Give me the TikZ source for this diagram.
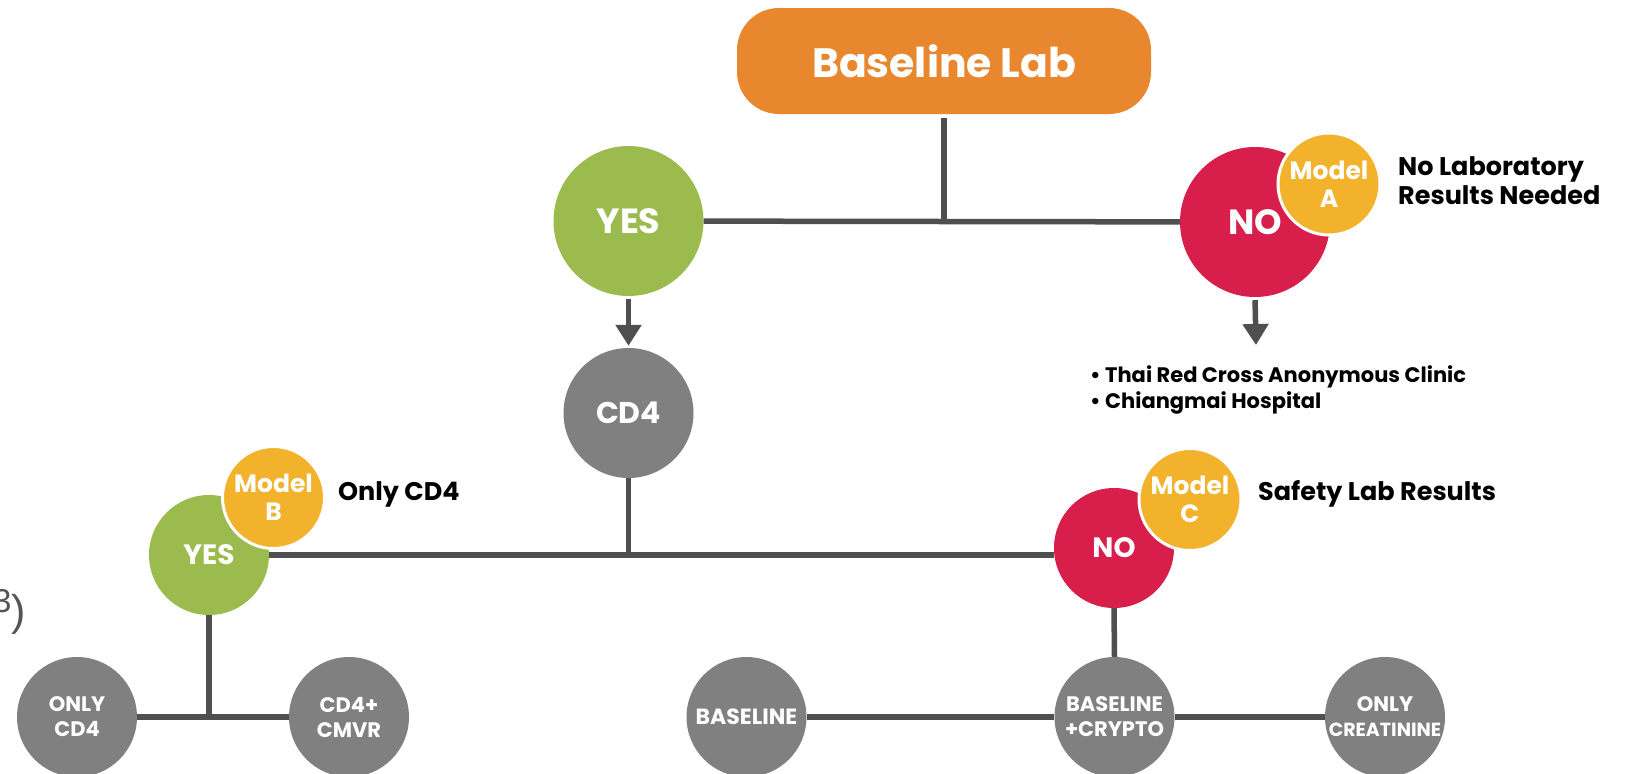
\documentclass[tikz,border=0pt]{standalone}
\usepackage{fontspec}
\setmainfont{Poppins}
\newfontfamily\arialfont{Liberation Sans}
\usetikzlibrary{arrows.meta}
\definecolor{cOrange}{HTML}{E8872E}
\definecolor{cGreen}{HTML}{9BBB4E}
\definecolor{cRed}{HTML}{D81E4B}
\definecolor{cGold}{HTML}{F2B22C}
\definecolor{cGrey}{HTML}{808080}
\definecolor{cLine}{HTML}{4F4F4F}
\definecolor{cNote}{HTML}{555555}
\tikzset{
  conn/.style={draw=cLine, line width=5.5pt},
  arr/.style={conn, -{Triangle[width=25pt,length=21pt]}},
  startbox/.style={rectangle, rounded corners=42pt, fill=cOrange, text=white,
    minimum width=414pt, minimum height=106pt, inner sep=0pt,
    font=\bfseries\fontsize{41}{46}\selectfont},
  disc/.style={circle, inner sep=0pt, text=white, align=center},
  bigdisc/.style={disc, minimum size=150pt, font=\bfseries\fontsize{35}{38}\selectfont},
  middisc/.style={disc, minimum size=130pt, fill=cGrey, font=\bfseries\fontsize{30}{34}\selectfont},
  smalldisc/.style={disc, minimum size=120pt, font=\bfseries\fontsize{28}{31}\selectfont},
  botdisc/.style={disc, minimum size=120pt, fill=cGrey, font=\bfseries\fontsize{21}{25}\selectfont},
  modeldisc/.style={disc, minimum size=102pt, fill=cGold, draw=white, line width=3pt,
    font=\bfseries\fontsize{25}{28}\selectfont},
  lab/.style={anchor=base west, inner sep=0pt, text=black, font=\bfseries\fontsize{25.5}{30}\selectfont},
  bul/.style={anchor=base west, inner sep=0pt, text=black, font=\bfseries\fontsize{21}{24}\selectfont},
}
\begin{document}
\begin{tikzpicture}[x=1pt,y=-1pt]
\useasboundingbox[fill=white] (0,0) rectangle (1626,774);
% main nodes
\node[startbox] (bl) at (944,61) {Baseline Lab};
\node[bigdisc, fill=cGreen] (yes1) at (628.5,221) {YES};
\node[bigdisc, fill=cRed] (no1) at (1255,222) {NO};
\coordinate (noArrEnd) at (1256,345);
\node[middisc] (cd4) at (628.5,413) {CD4};
\node[smalldisc, fill=cGreen] (yes2) at (209,555) {YES};
\node[smalldisc, fill=cRed] (no2) at (1114,548) {NO};
\node[botdisc] (only) at (77,717) {ONLY\\CD4};
\node[botdisc] (cmvr) at (349,717) {CD4+\\CMVR};
\node[botdisc] (base) at (746.5,717) {{\fontsize{22}{25}\selectfont BASELINE}};
\node[botdisc] (crypto) at (1114.5,717) {BASELINE\\+CRYPTO};
\node[botdisc] (creat) at (1385,717) {ONLY\\{\fontsize{19}{22}\selectfont CREATININE}};
% connectors
\draw[conn, shorten <=4pt] (bl.south) -- (bl.south |- yes1.east);
\draw[conn] (yes1) -- (no1);
\draw[arr, shorten <=3pt, shorten >=2pt] (yes1.south) -- (cd4.north);
\draw[arr, shorten <=3pt] (no1.south) -- (noArrEnd);
\draw[conn] (cd4.south) -- (cd4.south |- yes2.east);
\draw[conn] (yes2.east) -- (yes2.east -| no2.west);
\draw[conn] (yes2.south) -- (yes2.south |- only.east);
\draw[conn] (only) -- (cmvr);
\draw[conn] (no2.south) -- (crypto.north);
\draw[conn] (base) -- (crypto);
\draw[conn] (crypto) -- (creat);
% model badges
\node[modeldisc] (mA) at (1329,184) {Model\\A};
\node[modeldisc] (mB) at (273.5,497.5) {Model\\B};
\node[modeldisc] (mC) at (1190,499.5) {Model\\C};
% labels
\node[lab] (labA1) at (1398,175) {No Laboratory};
\node[lab] (labA2) at (1398,204) {Results Needed};
\node[lab] (labB) at (338,500) {Only CD4};
\node[lab] (labC) at (1258,500) {Safety Lab Results};
\node[bul] (b1) at (1090,382) {• Thai Red Cross Anonymous Clinic};
\node[bul] (b2) at (1090,408) {• Chiangmai Hospital};
\node[anchor=base east, inner sep=0pt, text=cNote, font=\arialfont\fontsize{43}{48}\selectfont] (note) at (26,625)
  {\raisebox{13pt}{\fontsize{33}{36}\selectfont 3})};
\end{tikzpicture}
\end{document}
